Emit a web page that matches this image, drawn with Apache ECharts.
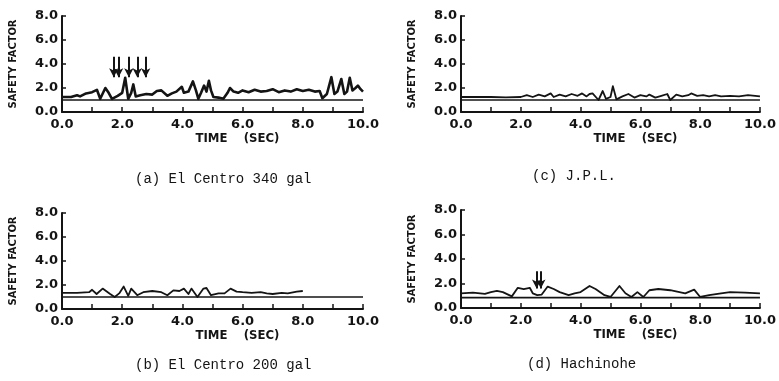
<!DOCTYPE html>
<html>
<head>
<meta charset="utf-8">
<script src="https://cdn.jsdelivr.net/npm/echarts@6/dist/echarts.min.js"></script>
<style>
  html, body { margin: 0; padding: 0; background: #fff; }
  #chart { width: 779px; height: 381px; }
</style>
</head>
<body>
<div id="chart"></div>
<script>
// time axis (sec) and safety factor per record
const timeA = [0, 0.3, 0.5, 0.6, 0.8, 1.0, 1.16, 1.27, 1.44, 1.55, 1.66, 1.85, 2.0, 2.1, 2.2, 2.3, 2.37, 2.45, 2.6, 2.8, 3.0, 3.15, 3.3, 3.5, 3.65, 3.8, 3.98, 4.05, 4.2, 4.35, 4.45, 4.53, 4.62, 4.72, 4.8, 4.88, 4.95, 5.03, 5.2, 5.36, 5.5, 5.58, 5.7, 5.85, 6.0, 6.2, 6.4, 6.6, 6.8, 7.0, 7.2, 7.4, 7.6, 7.8, 8.0, 8.2, 8.4, 8.56, 8.65, 8.8, 8.95, 9.05, 9.15, 9.28, 9.38, 9.47, 9.56, 9.65, 9.75, 9.83, 9.92, 10.0];
const sfA = [1.25, 1.25, 1.4, 1.3, 1.55, 1.65, 1.85, 1.1, 2.0, 1.6, 1.1, 1.35, 1.6, 2.85, 1.1, 1.6, 2.3, 1.3, 1.4, 1.5, 1.45, 1.75, 1.8, 1.35, 1.55, 1.7, 2.1, 1.6, 1.7, 2.55, 1.8, 1.1, 1.6, 2.2, 1.7, 2.6, 1.8, 1.25, 1.2, 1.1, 1.6, 2.0, 1.7, 1.6, 1.8, 1.65, 1.85, 1.7, 1.75, 1.9, 1.65, 1.8, 1.7, 1.9, 1.75, 1.85, 1.7, 1.75, 1.15, 1.5, 2.9, 1.5, 1.7, 2.75, 1.5, 1.7, 2.85, 1.8, 2.0, 2.2, 1.9, 1.7];

const timeB = [0, 0.5, 0.9, 1.0, 1.15, 1.35, 1.6, 1.75, 1.9, 2.05, 2.2, 2.3, 2.5, 2.7, 3.0, 3.3, 3.5, 3.7, 3.9, 4.05, 4.2, 4.3, 4.5, 4.7, 4.8, 4.95, 5.2, 5.4, 5.6, 5.8, 6.0, 6.3, 6.6, 6.8, 7.0, 7.3, 7.5, 7.8, 8.0];
const sfB = [1.35, 1.35, 1.4, 1.6, 1.25, 1.7, 1.25, 1.0, 1.3, 1.87, 1.1, 1.7, 1.15, 1.4, 1.5, 1.4, 1.15, 1.55, 1.5, 1.7, 1.25, 1.7, 1.0, 1.7, 1.75, 1.15, 1.3, 1.3, 1.7, 1.45, 1.4, 1.35, 1.4, 1.3, 1.25, 1.35, 1.3, 1.45, 1.5];

const timeC = [0, 0.5, 1.0, 1.5, 2.0, 2.2, 2.4, 2.6, 2.8, 3.0, 3.1, 3.3, 3.5, 3.7, 3.9, 4.05, 4.2, 4.3, 4.4, 4.6, 4.74, 4.85, 5.0, 5.08, 5.2, 5.4, 5.6, 5.8, 6.0, 6.2, 6.3, 6.5, 6.7, 6.9, 7.0, 7.2, 7.4, 7.6, 7.7, 7.9, 8.1, 8.3, 8.5, 8.7, 9.0, 9.3, 9.6, 10.0];
const sfC = [1.25, 1.25, 1.25, 1.22, 1.25, 1.4, 1.25, 1.45, 1.3, 1.55, 1.25, 1.45, 1.3, 1.5, 1.35, 1.55, 1.3, 1.5, 1.55, 1.0, 1.75, 1.1, 1.25, 2.15, 1.05, 1.3, 1.5, 1.2, 1.4, 1.3, 1.45, 1.2, 1.35, 1.5, 1.0, 1.45, 1.3, 1.4, 1.55, 1.35, 1.4, 1.3, 1.4, 1.3, 1.35, 1.3, 1.4, 1.3];

const timeD = [0, 0.4, 0.8, 1.0, 1.2, 1.4, 1.7, 1.9, 2.1, 2.3, 2.4, 2.55, 2.7, 2.9, 3.1, 3.3, 3.6, 3.8, 4.0, 4.3, 4.5, 4.8, 5.0, 5.3, 5.5, 5.7, 5.9, 6.1, 6.3, 6.6, 7.0, 7.5, 7.8, 8.0, 8.3, 8.7, 9.0, 9.5, 10.0];
const sfD = [1.2, 1.25, 1.15, 1.3, 1.4, 1.3, 0.95, 1.65, 1.55, 1.65, 1.2, 1.05, 1.1, 1.75, 1.55, 1.3, 1.05, 1.2, 1.3, 1.8, 1.55, 1.05, 0.9, 1.8, 1.2, 0.9, 1.3, 0.9, 1.45, 1.55, 1.45, 1.2, 1.5, 0.9, 1.05, 1.2, 1.3, 1.25, 1.2];

// reference level drawn across each panel
const limitABC = 1.0;
const limitD = 0.85;

// arrows marking instants (sec), arrow tail / tip in safety factor units
const arrowsA = [1.72, 1.88, 2.22, 2.5, 2.78];
const arrowsD = [2.53, 2.67];

const captions = ['(a) El Centro 340 gal', '(b) El Centro 200 gal', '(c) J.P.L.', '(d) Hachinohe'];
const yTicks = [0, 2, 4, 6, 8];
const xMax = 10;

const INK = '#141414';
const labelFont = 'DejaVu Sans';
const nameFont = "'Liberation Sans Narrow', 'DejaVu Sans Condensed', 'Liberation Sans', sans-serif";

const zip = (t, v) => t.map((x, i) => [x, v[i]]);

// panel layout: a (top-left), b (bottom-left), c (top-right), d (bottom-right)
const grids = [
  { left: 62, top: 16, width: 301, height: 96 },
  { left: 62, top: 213, width: 301, height: 96 },
  { left: 461, top: 16, width: 300, height: 96 },
  { left: 461, top: 210, width: 299, height: 98 },
];

const traces = [zip(timeA, sfA), zip(timeB, sfB), zip(timeC, sfC), zip(timeD, sfD)];
const limits = [limitABC, limitABC, limitABC, limitD];
const arrows = [arrowsA, [], [], arrowsD];
const arrowSpan = [[4.6, 2.9], null, null, [3.0, 1.6]];
const traceWidth = [2.6, 1.8, 1.8, 1.8];

const chart = echarts.init(document.getElementById('chart'));

const xAxis = grids.map((g, i) => ({
  type: 'value',
  gridIndex: i,
  min: 0,
  max: xMax,
  interval: 1,
  name: 'TIME    (SEC)',
  nameLocation: 'middle',
  nameGap: 20,
  nameTextStyle: {
    fontFamily: nameFont, fontWeight: 'bold', fontSize: 13, color: INK,
    padding: [0, 0, 0, 50]
  },
  axisLine: { lineStyle: { color: INK, width: 2 } },
  axisTick: { inside: true, length: 5, lineStyle: { color: INK, width: 1.5 } },
  axisLabel: {
    margin: 6,
    fontFamily: labelFont, fontWeight: 'bold', fontSize: 13, color: INK,
    formatter: (v) => (v % 2 === 0 ? v.toFixed(1) : '')
  },
  splitLine: { show: false }
}));

const yAxis = grids.map((g, i) => ({
  type: 'value',
  gridIndex: i,
  min: 0,
  max: 8,
  interval: 2,
  name: 'SAFETY FACTOR',
  nameLocation: 'middle',
  nameGap: 43,
  nameTextStyle: { fontFamily: nameFont, fontWeight: 'bold', fontSize: 11, color: INK },
  axisLine: { show: true, lineStyle: { color: INK, width: 2 } },
  axisTick: { inside: true, length: 4, lineStyle: { color: INK, width: 1.5 } },
  axisLabel: {
    margin: 4,
    fontFamily: labelFont, fontWeight: 'bold', fontSize: 13, color: INK,
    formatter: (v) => (yTicks.includes(v) ? v.toFixed(1) : '')
  },
  splitLine: { show: false }
}));

const series = [];
traces.forEach((data, i) => {
  series.push({
    type: 'line',
    xAxisIndex: i,
    yAxisIndex: i,
    data: data,
    showSymbol: false,
    silent: true,
    lineStyle: { color: INK, width: traceWidth[i], join: 'round' },
    markLine: arrows[i].length ? {
      silent: true,
      symbol: ['none', 'arrow'],
      symbolSize: [7, 9],
      label: { show: false },
      lineStyle: { color: INK, width: 2, type: 'solid' },
      data: arrows[i].map((t) => [
        { coord: [t, arrowSpan[i][0]] },
        { coord: [t, arrowSpan[i][1]] }
      ])
    } : undefined
  });
  series.push({
    type: 'line',
    xAxisIndex: i,
    yAxisIndex: i,
    data: [[0, limits[i]], [xMax, limits[i]]],
    showSymbol: false,
    silent: true,
    lineStyle: { color: INK, width: 1.6 }
  });
});

const captionPos = [
  { left: 135, top: 172 },
  { left: 135, top: 358 },
  { left: 532, top: 169 },
  { left: 527, top: 357 },
];

chart.setOption({
  backgroundColor: '#fff',
  animation: false,
  title: captions.map((c, i) => ({
    text: c,
    left: captionPos[i].left,
    top: captionPos[i].top,
    padding: 0,
    textStyle: { fontFamily: "'Liberation Mono', monospace", fontWeight: 'normal', fontSize: 14, color: INK }
  })),
  grid: grids,
  xAxis: xAxis,
  yAxis: yAxis,
  series: series
});
</script>
</body>
</html>
